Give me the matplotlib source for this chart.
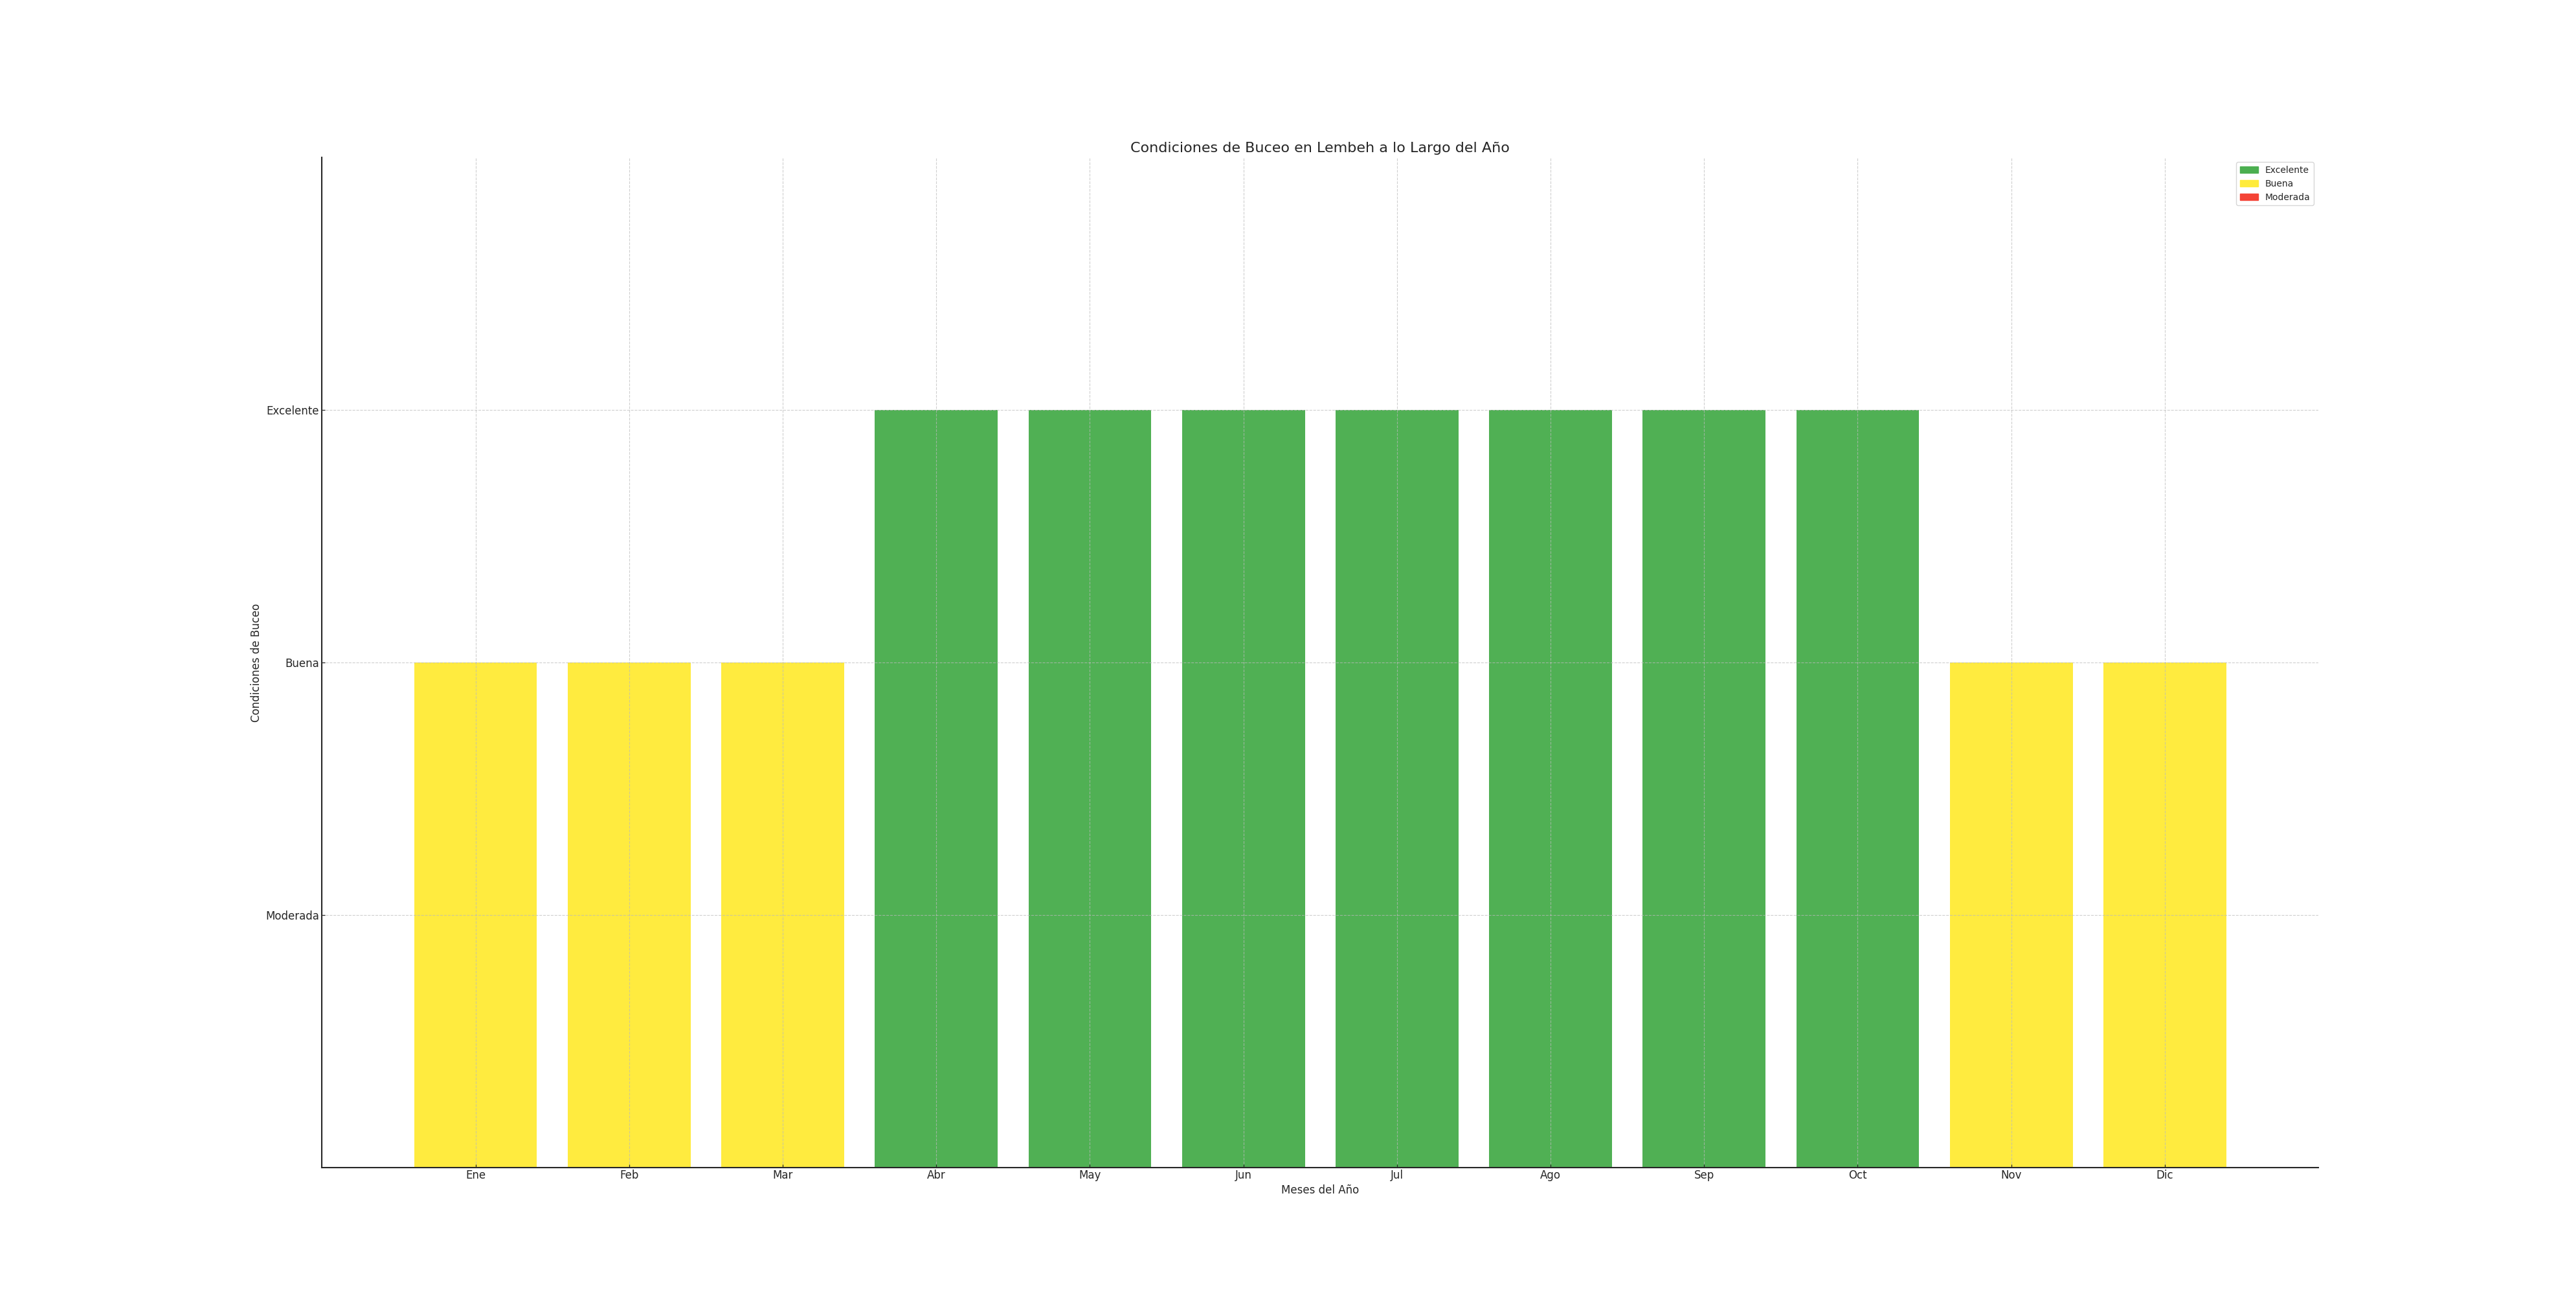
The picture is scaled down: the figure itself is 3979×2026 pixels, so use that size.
import numpy as np
import matplotlib
matplotlib.use('Agg')
import matplotlib.pyplot as plt
from matplotlib.patches import Patch

meses = ['Ene', 'Feb', 'Mar', 'Abr', 'May', 'Jun', 'Jul', 'Ago', 'Sep', 'Oct', 'Nov', 'Dic']
condiciones = ['Buena', 'Buena', 'Buena', 'Excelente', 'Excelente', 'Excelente',
               'Excelente', 'Excelente', 'Excelente', 'Excelente', 'Buena', 'Buena']
niveles = ['Moderada', 'Buena', 'Excelente']
nivel_valor = [1, 2, 3]
colores = {'Excelente': '#4CAF50', 'Buena': '#FFEB3B', 'Moderada': '#F44336'}

valores = [nivel_valor[niveles.index(c)] for c in condiciones]
x = np.arange(len(meses))

fig, ax = plt.subplots(figsize=(39.79, 20.26), dpi=100)
ax.bar(x, valores, width=0.8, color=[colores[c] for c in condiciones], alpha=0.98, zorder=1)

ax.set_xlim(-1, 12)
ax.set_ylim(0, 4)
ax.set_xticks(x)
ax.set_xticklabels(meses, fontsize=12, color='#262626')
ax.set_yticks(nivel_valor)
ax.set_yticklabels(niveles, fontsize=12, color='#262626')
ax.tick_params(direction='in', length=3.5, width=0.9, color='#262626')
ax.tick_params(axis='x', pad=2)
ax.tick_params(axis='y', pad=3)
ax.grid(True, linestyle='--', color='#bbbbbb', linewidth=0.8, alpha=0.7, zorder=3)
ax.set_axisbelow(False)
for s in ['top', 'right']:
    ax.spines[s].set_visible(False)
for s in ['left', 'bottom']:
    ax.spines[s].set_linewidth(1.5)
    ax.spines[s].set_color('#262626')

ax.set_title('Condiciones de Buceo en Lembeh a lo Largo del Año', fontsize=16, color='#262626')
ax.set_xlabel('Meses del Año', fontsize=12, color='#262626')
ax.set_ylabel('Condiciones de Buceo', fontsize=12, color='#262626')

handles = [Patch(color=colores[n]) for n in ['Excelente', 'Buena', 'Moderada']]
leg = ax.legend(handles, ['Excelente', 'Buena', 'Moderada'], loc='upper right', fontsize=10)
for t in leg.get_texts():
    t.set_color('#262626')

fig.savefig('out.png', dpi=100)
